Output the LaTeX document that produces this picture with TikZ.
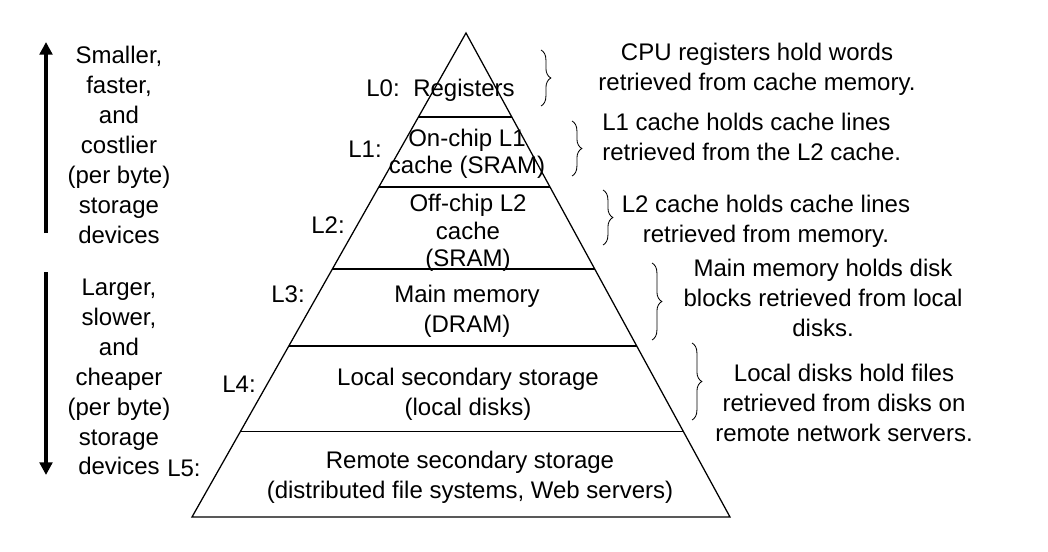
\documentclass[tikz,border=0pt]{standalone}
\usepackage{fontspec}
\setmainfont{Liberation Sans}
\usetikzlibrary{positioning, arrows.meta, calc, decorations.pathreplacing}
\newcommand{\letra}{\fontsize{17.07}{21.3}\selectfont}
\newcommand{\letrajusta}{\fontsize{17.07}{19.4}\selectfont}

\begin{document}
\begin{tikzpicture}[x=0.025cm, y=-0.025cm, font=\letra, inner sep=0pt,
		nivel/.style={align=center},
		etiqueta/.style={anchor=base east},
		nota/.style={align=center},
		llave/.style={decorate, decoration={brace, amplitude=7pt}, line width=0.6pt},
		flecha/.style={line width=2.8pt, -{Triangle[width=9pt, length=9pt]}}]
	\useasboundingbox (0,0) rectangle (1048,552);
	% piramide
	\coordinate (cima) at (466,33);
	\coordinate (izq) at (192,517);
	\coordinate (der) at (730,517);
	\draw[line width=0.9pt] (izq) -- (cima) -- (der) -- cycle;
	\draw[line width=0.9pt] ($(cima)!0.1736!(izq)$) -- ($(cima)!0.1736!(der)$);
	\draw[line width=0.9pt] ($(cima)!0.318!(izq)$) -- ($(cima)!0.318!(der)$);
	\draw[line width=0.9pt] ($(cima)!0.4876!(izq)$) -- ($(cima)!0.4876!(der)$);
	\draw[line width=0.9pt] ($(cima)!0.6467!(izq)$) -- ($(cima)!0.6467!(der)$);
	\draw[line width=0.9pt] ($(cima)!0.824!(izq)$) -- ($(cima)!0.824!(der)$);
	% niveles
	\node[nivel] (registros) at (464,90) {Registers};
	\node[etiqueta] (l0) at (400,96) {L0:};
	\node[nivel, font=\letrajusta] (sram1) at (467,154) {On-chip L1\\cache (SRAM)};
	\node[etiqueta] (l1) at (382,157) {L1:};
	\node[nivel, font=\letrajusta] (sram2) at (468,233) {Off-chip L2\\cache\\(SRAM)};
	\node[etiqueta] (l2) at (345,233) {L2:};
	\node[nivel] (dram) at (467,311) {Main memory\\(DRAM)};
	\node[etiqueta] (l3) at (305,302) {L3:};
	\node[nivel] (discos) at (468,394) {Local secondary storage\\(local disks)};
	\node[etiqueta] (l4) at (256,392) {L4:};
	\node[nivel] (remoto) at (470,477) {Remote secondary storage\\(distributed file systems, Web servers)};
	% columna izquierda
	\node[nota] (caros) at (119,145)
		{Smaller,\\faster,\\and\\costlier\\(per byte)\\storage\\devices};
	\node[nota] (baratos) at (119,377)
		{Larger,\\slower,\\and\\cheaper\\(per byte)\\storage\\devices};
	\node[anchor=base west] (l5) at (167,476) {L5:};
	\coordinate (subeA) at (46,233);
	\coordinate (subeB) at (46,42);
	\coordinate (bajaA) at (46,272);
	\coordinate (bajaB) at (46,475);
	\draw[flecha] (subeA) -- (subeB);
	\draw[flecha] (bajaA) -- (bajaB);
	% llaves y notas
	\draw[llave] (541,50) -- (541,106);
	\draw[llave] (572,121) -- (572,176);
	\draw[llave] (603,190) -- (603,245);
	\draw[llave] (652,263) -- (652,340);
	\draw[llave] (692,343) -- (692,420);
	\node[nota] (nota0) at (757,69) {CPU registers hold words\\retrieved from cache memory.};
	\node[nota, align=left, anchor=west] (nota1) at (602,137) {L1 cache holds cache lines\\retrieved from the L2 cache.};
	\node[nota] (nota2) at (766,221) {L2 cache holds cache lines\\retrieved from memory.};
	\node[nota] (nota3) at (823,298) {Main memory holds disk\\blocks retrieved from local\\disks.};
	\node[nota] (nota4) at (844,403) {Local disks hold files\\retrieved from disks on\\remote network servers.};
\end{tikzpicture}
\end{document}
